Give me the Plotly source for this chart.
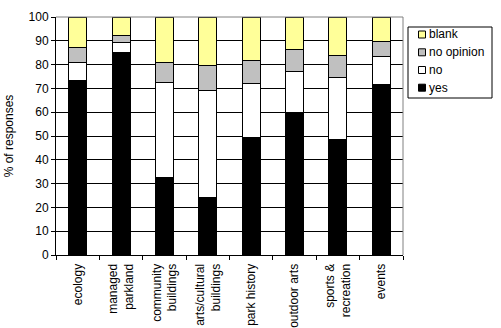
import plotly.graph_objects as go

categories = ["ecology", "managed<br>parkland", "community<br>buildings",
              "arts/cultural<br>buildings", "park history", "outdoor arts",
              "sports &<br>recreation", "events"]
yes = [73.5, 85.0, 32.5, 24.0, 49.4, 59.8, 48.6, 71.8]
no = [7.5, 4.4, 40.0, 45.2, 22.7, 17.4, 26.0, 11.7]
no_opinion = [6.3, 2.9, 8.5, 10.5, 9.7, 9.2, 9.3, 6.3]
blank = [12.7, 7.7, 19.0, 20.3, 18.2, 13.6, 16.1, 10.2]

series = [("yes", yes, "#000000"), ("no", no, "#FFFFFF"),
          ("no opinion", no_opinion, "#C0C0C0"), ("blank", blank, "#FFFF99")]

font = dict(family="Liberation Sans, Arial, sans-serif", size=12, color="black")
W, H = 501, 328

fig = go.Figure()
for name, vals, color in series:
    fig.add_trace(go.Bar(x=categories, y=vals, name=name, showlegend=False,
                         marker=dict(color=color, line=dict(color="black", width=1))))

# grey frame on the top and right of the plot area
shapes = [
    dict(type="line", xref="paper", yref="paper", x0=0, x1=1, y0=1, y1=1,
         line=dict(color="#808080", width=1)),
    dict(type="line", xref="paper", yref="paper", x0=1, x1=1, y0=0, y1=1,
         line=dict(color="#808080", width=1)),
]
annotations = []
plot_l, plot_r, plot_t, plot_b = 56, 403, 17, 255


def px_x(x):
    return (x - plot_l) / (plot_r - plot_l)


def px_y(y):
    return (plot_b - y) / (plot_b - plot_t)


# compact legend box with small square keys
box = (408, 27, 492, 98)
shapes.append(dict(type="rect", xref="paper", yref="paper",
                   x0=px_x(box[0]), x1=px_x(box[2]), y0=px_y(box[3]), y1=px_y(box[1]),
                   line=dict(color="black", width=1), fillcolor="white"))
legend_rows = list(reversed(series))
row_y = [34.5, 52.3, 70.0, 87.7]
for (name, _, color), cy in zip(legend_rows, row_y):
    shapes.append(dict(type="rect", xref="paper", yref="paper",
                       x0=px_x(418.5), x1=px_x(425.5), y0=px_y(cy + 3.5), y1=px_y(cy - 3.5),
                       line=dict(color="black", width=1), fillcolor=color))
    annotations.append(dict(text=name, xref="paper", yref="paper", x=px_x(426.5), y=px_y(cy),
                            xanchor="left", yanchor="middle", showarrow=False,
                            font=font))

fig.update_layout(
    width=W, height=H,
    barmode="stack", bargap=0.585,
    plot_bgcolor="white", paper_bgcolor="white",
    margin=dict(l=plot_l, r=W - plot_r, t=plot_t, b=H - plot_b),
    font=font,
    showlegend=False,
    xaxis=dict(type="category", showline=True, linecolor="black", linewidth=1,
               ticks="outside", tickson="boundaries", ticklen=4, tickcolor="black",
               tickangle=-90, showgrid=False, tickfont=font, automargin=False,
               ticklabelstandoff=3),
    yaxis=dict(range=[0, 100], dtick=10, showline=True, linecolor="black", linewidth=1,
               ticks="outside", ticklen=4, tickcolor="black",
               showgrid=True, gridcolor="black", gridwidth=1, zeroline=False,
               tickfont=font, automargin=False,
               title=dict(text="% of responses", font=font, standoff=12)),
    shapes=shapes,
    annotations=annotations,
)

fig.write_html("out.html")
